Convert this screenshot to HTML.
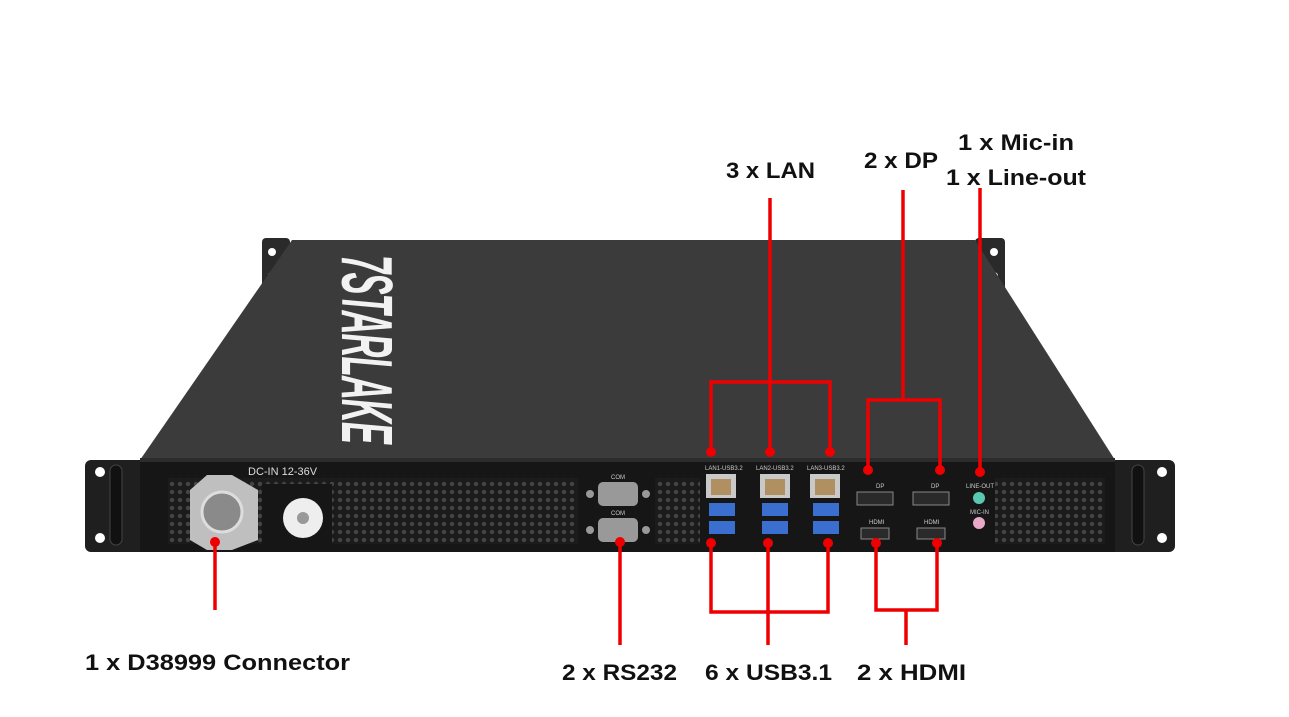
<!DOCTYPE html>
<html><head><meta charset="utf-8"><style>
html,body{margin:0;padding:0;background:#fff}
svg{display:block}
text{font-family:"Liberation Sans",sans-serif;font-weight:bold;fill:#111;font-size:22px}
</style></head><body>
<svg width="1289" height="717" viewBox="0 0 1289 717">
<defs>
<pattern id="holes" width="8" height="8" patternUnits="userSpaceOnUse">
<rect width="8" height="8" fill="#1b1b1b"/><circle cx="4" cy="4" r="2.2" fill="#444"/>
</pattern>
</defs>
<rect x="262" y="238" width="28" height="54" rx="4" fill="#2a2a2a"/>
<rect x="975" y="238" width="30" height="54" rx="4" fill="#2a2a2a"/>
<circle cx="272" cy="252" r="4" fill="#fff"/><circle cx="272" cy="276" r="4" fill="#fff"/>
<circle cx="994" cy="252" r="4" fill="#fff"/><circle cx="994" cy="276" r="4" fill="#fff"/>
<polygon points="292,240 975,240 1115,460 140,460" fill="#3b3b3b"/>
<text x="0" y="0" transform="translate(342,255) rotate(90)" style="font-size:72px;font-style:italic;fill:#f2f2f2;letter-spacing:-2px" textLength="188" lengthAdjust="spacingAndGlyphs">7STARLAKE</text>
<rect x="85" y="460" width="65" height="92" rx="6" fill="#1f1f1f"/>
<rect x="1108" y="460" width="67" height="92" rx="6" fill="#1f1f1f"/>
<circle cx="100" cy="472" r="5" fill="#fff"/><circle cx="100" cy="538" r="5" fill="#fff"/>
<circle cx="1162" cy="472" r="5" fill="#fff"/><circle cx="1162" cy="538" r="5" fill="#fff"/>
<rect x="110" y="465" width="12" height="80" rx="6" fill="#111" stroke="#444"/>
<rect x="1132" y="465" width="12" height="80" rx="6" fill="#111" stroke="#444"/>
<rect x="140" y="458" width="975" height="94" fill="#161616"/>
<rect x="140" y="458" width="975" height="4" fill="#2c2c2c"/>
<rect x="168" y="478" width="410" height="66" fill="url(#holes)"/>
<rect x="655" y="478" width="45" height="66" fill="url(#holes)"/>
<rect x="995" y="478" width="110" height="66" fill="url(#holes)"/>
<polygon points="207,475 232,475 258,490 258,540 232,550 207,550 190,540 190,490" fill="#bfbfbf"/>
<circle cx="222" cy="512" r="20" fill="#8a8a8a" stroke="#ddd" stroke-width="3"/>
<rect x="262" y="484" width="70" height="60" fill="#161616"/>
<circle cx="303" cy="518" r="20" fill="#eee"/><circle cx="303" cy="518" r="6" fill="#999"/>
<text x="248" y="475" style="font-size:11px;font-weight:normal;fill:#ddd">DC-IN  12-36V</text>
<g fill="#999"><rect x="598" y="482" width="40" height="24" rx="5"/><rect x="598" y="518" width="40" height="24" rx="5"/>
<circle cx="590" cy="494" r="4"/><circle cx="646" cy="494" r="4"/><circle cx="590" cy="530" r="4"/><circle cx="646" cy="530" r="4"/></g>
<text x="611" y="479" style="font-size:6px;font-weight:normal;fill:#ccc">COM</text>
<text x="611" y="515" style="font-size:6px;font-weight:normal;fill:#ccc">COM</text>
<g>
<rect x="706" y="474" width="30" height="24" fill="#c9c9c9"/><rect x="711" y="479" width="20" height="16" fill="#b09060"/>
<rect x="760" y="474" width="30" height="24" fill="#c9c9c9"/><rect x="765" y="479" width="20" height="16" fill="#b09060"/>
<rect x="810" y="474" width="30" height="24" fill="#c9c9c9"/><rect x="815" y="479" width="20" height="16" fill="#b09060"/>
<g fill="#3a6fd0"><rect x="709" y="503" width="26" height="13"/><rect x="709" y="521" width="26" height="13"/>
<rect x="762" y="503" width="26" height="13"/><rect x="762" y="521" width="26" height="13"/>
<rect x="813" y="503" width="26" height="13"/><rect x="813" y="521" width="26" height="13"/></g>
</g>
<text x="705" y="470" style="font-size:6px;font-weight:normal;fill:#ccc">LAN1-USB3.2</text>
<text x="756" y="470" style="font-size:6px;font-weight:normal;fill:#ccc">LAN2-USB3.2</text>
<text x="807" y="470" style="font-size:6px;font-weight:normal;fill:#ccc">LAN3-USB3.2</text>
<g fill="#2a2a2a" stroke="#888"><rect x="857" y="492" width="36" height="13"/><rect x="913" y="492" width="36" height="13"/>
<rect x="861" y="528" width="28" height="11"/><rect x="917" y="528" width="28" height="11"/></g>
<text x="876" y="488" style="font-size:6px;font-weight:normal;fill:#ccc">DP</text>
<text x="931" y="488" style="font-size:6px;font-weight:normal;fill:#ccc">DP</text>
<text x="869" y="524" style="font-size:6px;font-weight:normal;fill:#ccc">HDMI</text>
<text x="924" y="524" style="font-size:6px;font-weight:normal;fill:#ccc">HDMI</text>
<circle cx="979" cy="498" r="6" fill="#5cc7b0"/><circle cx="979" cy="523" r="6" fill="#e8a8c8"/>
<text x="966" y="488" style="font-size:6px;font-weight:normal;fill:#ccc">LINE-OUT</text>
<text x="970" y="514" style="font-size:6px;font-weight:normal;fill:#ccc">MIC-IN</text>
<g stroke="#e00" stroke-width="3.5" fill="none">
<path d="M770 198 V452 M711 452 V382 H830 V452"/>
<path d="M903 190 V400 M868 470 V400 H940 V470"/>
<path d="M980 188 V472"/>
<path d="M215 542 V610"/>
<path d="M620 542 V645"/>
<path d="M711 543 V612 H828 V543 M768 543 V645"/>
<path d="M876 543 V610 H937 V543 M906 610 V645"/>
</g>
<g fill="#e00">
<circle cx="711" cy="452" r="5"/><circle cx="770" cy="452" r="5"/><circle cx="830" cy="452" r="5"/>
<circle cx="868" cy="470" r="5"/><circle cx="940" cy="470" r="5"/><circle cx="980" cy="472" r="5"/>
<circle cx="215" cy="542" r="5"/><circle cx="620" cy="542" r="5"/>
<circle cx="711" cy="543" r="5"/><circle cx="768" cy="543" r="5"/><circle cx="828" cy="543" r="5"/>
<circle cx="876" cy="543" r="5"/><circle cx="937" cy="543" r="5"/>
</g>
<text x="726" y="178" textLength="89" lengthAdjust="spacingAndGlyphs">3 x LAN</text>
<text x="864" y="168" textLength="74" lengthAdjust="spacingAndGlyphs">2 x DP</text>
<text x="958" y="150" textLength="116" lengthAdjust="spacingAndGlyphs">1 x Mic-in</text>
<text x="946" y="185" textLength="140" lengthAdjust="spacingAndGlyphs">1 x Line-out</text>
<text x="85" y="670" textLength="265" lengthAdjust="spacingAndGlyphs">1 x D38999 Connector</text>
<text x="562" y="680" textLength="115" lengthAdjust="spacingAndGlyphs">2 x RS232</text>
<text x="705" y="680" textLength="127" lengthAdjust="spacingAndGlyphs">6 x USB3.1</text>
<text x="857" y="680" textLength="109" lengthAdjust="spacingAndGlyphs">2 x HDMI</text>
</svg>
</body></html>
